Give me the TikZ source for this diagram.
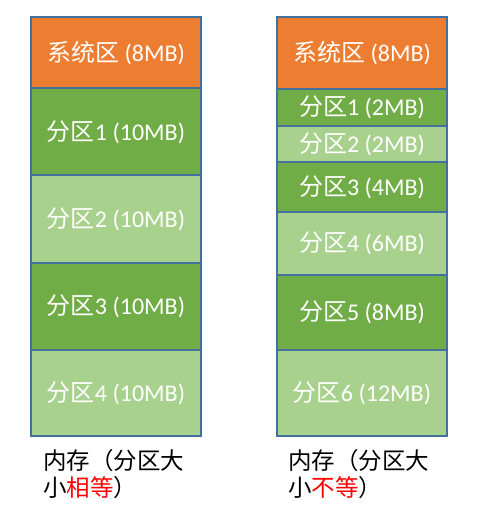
\documentclass[tikz,border=0pt]{standalone}
\usepackage{fontspec}
\setmainfont{Carlito}
\newfontfamily\cjk{Noto Sans CJK SC}
\definecolor{sysor}{HTML}{ED7D31}
\definecolor{dkgr}{HTML}{70AD47}
\definecolor{ltgr}{HTML}{A9D18E}
\definecolor{bord}{HTML}{41719C}
\definecolor{redtxt}{HTML}{FF0000}
\begin{document}
\begin{tikzpicture}[x=1pt,y=-1pt,
  blk/.style={draw=bord, line width=2pt, minimum width=170pt, inner sep=0pt,
    text=white, font=\fontsize{24}{28}\selectfont},
  captxt/.style={anchor=north west, align=left, inner sep=0pt,
    font=\cjk\fontsize{23.5}{27}\selectfont}]
\useasboundingbox (0,0) rectangle (484,526);
% left column
\node[blk, fill=sysor, minimum height=71pt] (l0) at (116,53) {{\cjk 系统区} (8MB)};
\node[blk, fill=dkgr, minimum height=87pt] (l1) at (116,132) {{\cjk 分区}1 (10MB)};
\node[blk, fill=ltgr, minimum height=87pt] (l2) at (116,219) {{\cjk 分区}2 (10MB)};
\node[blk, fill=dkgr, minimum height=87.5pt] (l3) at (116,306.25) {{\cjk 分区}3 (10MB)};
\node[blk, fill=ltgr, minimum height=86pt] (l4) at (116,393) {{\cjk 分区}4 (10MB)};
% right column
\node[blk, fill=sysor, minimum height=71.5pt] (r0) at (362,53.25) {{\cjk 系统区} (8MB)};
\node[blk, fill=dkgr, minimum height=37pt] (r1) at (362,107.5) {{\cjk 分区}1 (2MB)};
\node[blk, fill=ltgr, minimum height=36pt] (r2) at (362,144) {{\cjk 分区}2 (2MB)};
\node[blk, fill=dkgr, minimum height=50pt] (r3) at (362,187) {{\cjk 分区}3 (4MB)};
\node[blk, fill=ltgr, minimum height=62.5pt] (r4) at (362,243.25) {{\cjk 分区}4 (6MB)};
\node[blk, fill=dkgr, minimum height=75.5pt] (r5) at (362,312.25) {{\cjk 分区}5 (8MB)};
\node[blk, fill=ltgr, minimum height=86pt] (r6) at (362,393) {{\cjk 分区}6 (12MB)};
% captions
\node[captxt] (lc) at (43,449) {内存（分区大\\小\textcolor{redtxt}{相等}）};
\node[captxt] (rc) at (288,449) {内存（分区大\\小\textcolor{redtxt}{不等}）};
\end{tikzpicture}
\end{document}
